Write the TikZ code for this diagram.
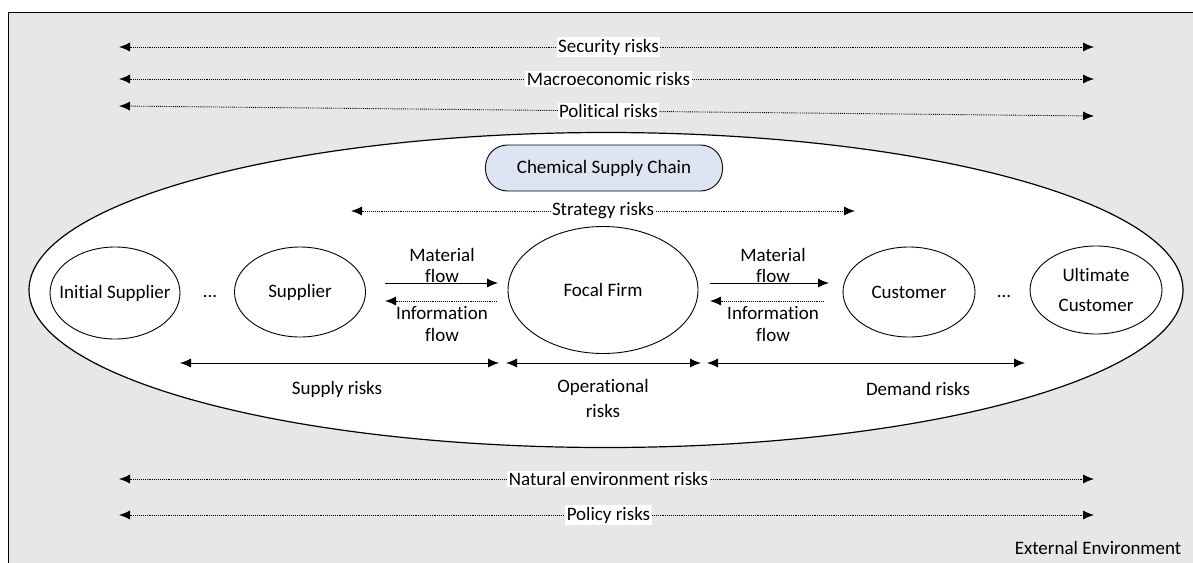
\documentclass[tikz,border=0pt]{standalone}
\usepackage{fontspec}
\setmainfont{Carlito}[Ligatures={NoCommon,NoRequired,NoContextual}]
\usetikzlibrary{arrows.meta,shapes.geometric}
\definecolor{titlefill}{RGB}{221,229,242}
\begin{document}
\begin{tikzpicture}[x=1pt,y=-1pt,
  txt/.style={font=\fontsize{19}{22}\selectfont, inner sep=1.5pt, align=center},
  lbl/.style={txt, fill=white},
  ell/.style={draw, ellipse, line width=0.9pt, fill=white, inner sep=0pt},
  dotarrow/.style={densely dotted, line width=0.9pt, {Latex[length=11pt,width=9pt]}-{Latex[length=11pt,width=9pt]}},
  solarrow/.style={line width=0.9pt, {Latex[length=11pt,width=9pt]}-{Latex[length=11pt,width=9pt]}},
  flowarrow/.style={line width=0.9pt, -{Latex[length=11pt,width=9pt]}},
  infoarrow/.style={densely dotted, line width=0.9pt, -{Latex[length=11pt,width=9pt]}}
]
\useasboundingbox (0,0) rectangle (1193,562);
% external environment frame
\node[draw, line width=1.4pt, fill=gray!19, minimum width=1200pt, minimum height=570pt, anchor=north west, inner sep=0pt] (frame) at (8,12) {};
% big supply chain ellipse
\node[ell, line width=1.2pt, minimum width=1154pt, minimum height=315pt] (chain) at (606,290) {};
% chain title
\node[draw, line width=0.9pt, rounded corners=22pt, fill=titlefill, minimum width=237pt, minimum height=46pt, txt] (title) at (604,168) {Chemical Supply Chain};
% members
\node[ell, minimum width=130pt, minimum height=92pt, label={[txt]center:Initial Supplier}] (init) at (115,293) {};
\node[ell, minimum width=131pt, minimum height=90pt, label={[txt]center:Supplier}] (sup) at (300,292) {};
\node[ell, minimum width=190pt, minimum height=127pt, label={[txt]center:Focal Firm}] (focal) at (603,290) {};
\node[ell, minimum width=132pt, minimum height=90pt, label={[txt]center:Customer}] (cust) at (909,292) {};
\node[ell, minimum width=132pt, minimum height=88pt, label={[txt, font=\fontsize{19}{30}\selectfont]center:{Ultimate\\Customer}}] (ult) at (1096,290) {};
\node[txt] (dots1) at (210,296) {...};
\node[txt] (dots2) at (1004,296) {...};
% flows
\coordinate (mfl1) at (385,283); \coordinate (mfl2) at (498,283);
\coordinate (ifl1) at (497,301); \coordinate (ifl2) at (385,301);
\coordinate (mfr1) at (710,283); \coordinate (mfr2) at (829,283);
\coordinate (ifr1) at (824,301); \coordinate (ifr2) at (710,301);
\node[txt, font=\fontsize{19}{21}\selectfont] (mlabL) at (442,265) {Material\\flow};
\node[txt] (ilabL) at (442,324) {Information\\flow};
\node[txt, font=\fontsize{19}{21}\selectfont] (mlabR) at (773,265) {Material\\flow};
\node[txt] (ilabR) at (773,324) {Information\\flow};
\draw[flowarrow] (mfl1) -- (mfl2);
\draw[infoarrow] (ifl1) -- (ifl2);
\draw[flowarrow] (mfr1) -- (mfr2);
\draw[infoarrow] (ifr1) -- (ifr2);
% internal risks
\coordinate (sr1) at (180,363); \coordinate (sr2) at (499,363);
\coordinate (or1) at (506,363); \coordinate (or2) at (701,363);
\coordinate (dr1) at (707,363); \coordinate (dr2) at (1025,363);
\draw[solarrow] (sr1) -- (sr2);
\draw[solarrow] (or1) -- (or2);
\draw[solarrow] (dr1) -- (dr2);
\node[txt] (supr) at (337,389) {Supply risks};
\node[txt, font=\fontsize{19}{25}\selectfont] (opr) at (603,398) {Operational\\risks};
\node[txt] (demr) at (918,389) {Demand risks};
% strategy risks
\coordinate (st1) at (351,211); \coordinate (st2) at (855,211);
\draw[dotarrow] (st1) -- (st2) node[pos=0.5, lbl] (strat) {Strategy risks};
% external risks
\coordinate (se1) at (119,47); \coordinate (se2) at (1094,47);
\coordinate (ma1) at (119,79); \coordinate (ma2) at (1094,79);
\coordinate (po1) at (119,106); \coordinate (po2) at (1094,116);
\coordinate (na1) at (119,479); \coordinate (na2) at (1094,479);
\coordinate (pl1) at (119,515); \coordinate (pl2) at (1094,515);
\draw[dotarrow] (se1) -- (se2) node[pos=0.502, lbl] (secr) {Security risks};
\draw[dotarrow] (ma1) -- (ma2) node[pos=0.502, lbl] (macr) {Macroeconomic risks};
\draw[dotarrow] (po1) -- (po2) node[pos=0.502, lbl] (polr) {Political risks};
\draw[dotarrow] (na1) -- (na2) node[pos=0.502, lbl] (natr) {Natural environment risks};
\draw[dotarrow] (pl1) -- (pl2) node[pos=0.502, lbl] (polir) {Policy risks};
\node[txt, anchor=east] (ext) at (1183,548) {External Environment};
\end{tikzpicture}
\end{document}
